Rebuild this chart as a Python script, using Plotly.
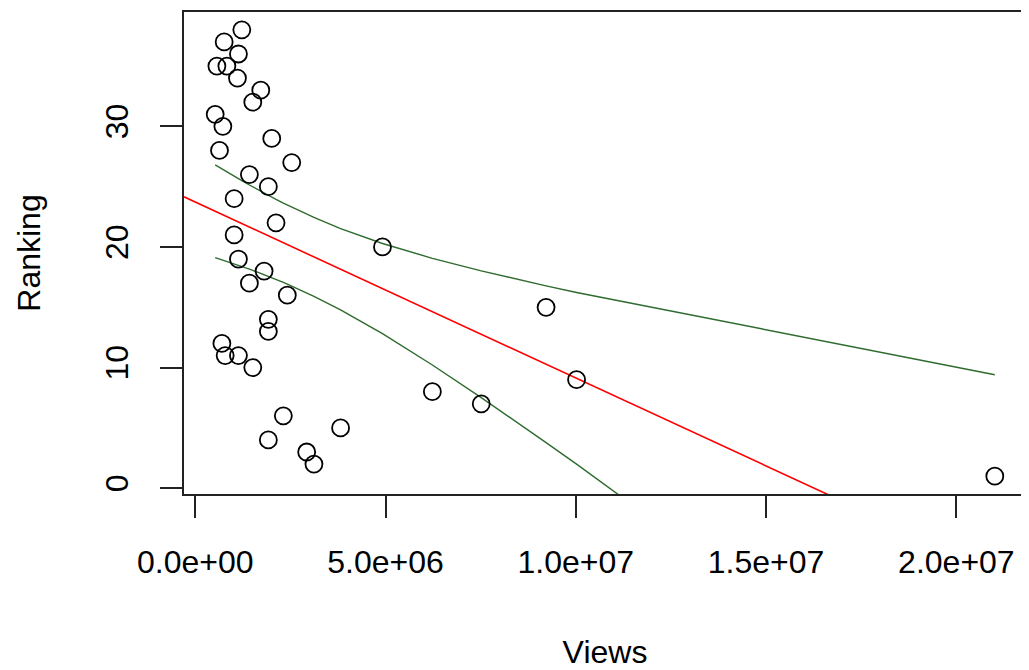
import numpy as np
import plotly.graph_objects as go

# ---- data ----
views = [1.224e6, 0.760e6, 1.135e6, 0.569e6, 0.831e6, 1.109e6, 1.722e6, 1.512e6,
         0.524e6, 0.726e6, 2.010e6, 0.637e6, 2.535e6, 1.423e6, 1.921e6, 1.022e6,
         2.123e6, 1.022e6, 4.920e6, 1.135e6, 1.809e6, 1.423e6, 2.419e6, 9.219e6,
         1.921e6, 1.921e6, 0.700e6, 0.786e6, 1.135e6, 1.512e6, 10.02e6, 6.231e6,
         7.515e6, 2.315e6, 3.819e6, 1.921e6, 2.928e6, 3.119e6, 21.01e6]
ranking = [38, 37, 36, 35, 35, 34, 33, 32,
           31, 30, 29, 28, 27, 26, 25, 24,
           22, 21, 20, 19, 18, 17, 16, 15,
           14, 13, 12, 11, 11, 10, 9, 8,
           7, 6, 5, 4, 3, 2, 1]
x_tickvals = [0, 5e6, 1e7, 1.5e7, 2e7]
x_ticktext = ["0.0e+00", "5.0e+06", "1.0e+07", "1.5e+07", "2.0e+07"]
y_tickvals = [0, 10, 20, 30]
y_ticktext = ["0", "10", "20", "30"]
T_975 = 2.026  # t quantile, df = n - 2

# ---- linear model and 95% confidence band ----
x = np.array(views, dtype=float)
y = np.array(ranking, dtype=float)
n = len(x)
slope, intercept = np.polyfit(x, y, 1)
resid = y - (intercept + slope * x)
s = np.sqrt(np.sum(resid ** 2) / (n - 2))
xbar = x.mean()
sxx = np.sum((x - xbar) ** 2)
xs = np.sort(x)
fit_s = intercept + slope * xs
hw = T_975 * s * np.sqrt(1.0 / n + (xs - xbar) ** 2 / sxx)
upper = fit_s + hw
lower = fit_s - hw

# axis ranges like R (4% extension)
xpad = 0.04 * (x.max() - x.min())
ypad = 0.04 * (y.max() - y.min())
xr = [x.min() - xpad, x.max() + xpad]
yr = [y.min() - ypad, y.max() + ypad]

FONT = "Liberation Sans, Arial, Helvetica, sans-serif"
FS = 32
GREEN = "#2e6b2e"

fig = go.Figure()
fig.add_trace(go.Scatter(x=xr, y=[intercept + slope * v for v in xr], mode="lines",
                         line=dict(color="#ff0000", width=1.6), showlegend=False,
                         hoverinfo="skip"))
fig.add_trace(go.Scatter(x=xs, y=upper, mode="lines",
                         line=dict(color=GREEN, width=1.4), showlegend=False))
fig.add_trace(go.Scatter(x=xs, y=lower, mode="lines",
                         line=dict(color=GREEN, width=1.4), showlegend=False))
fig.add_trace(go.Scatter(x=views, y=ranking, mode="markers",
                         marker=dict(symbol="circle-open", size=17, color="black",
                                     line=dict(width=1.8, color="black")),
                         showlegend=False, cliponaxis=False))

axis_common = dict(showgrid=False, zeroline=False, showline=True, mirror=True,
                   linecolor="#222222", linewidth=1.5, ticks="outside", ticklen=22,
                   tickwidth=1.5, tickcolor="#222222", automargin=False,
                   tickfont=dict(family=FONT, size=FS, color="black"))

fig.update_xaxes(range=xr, tickmode="array", tickvals=x_tickvals, ticktext=x_ticktext,
                 ticklabelstandoff=17,
                 title=dict(text="Views", font=dict(family=FONT, size=FS, color="black"),
                            standoff=67),
                 **axis_common)
fig.update_yaxes(range=yr, tickmode="array", tickvals=y_tickvals, ticktext=y_ticktext,
                 tickangle=-90, ticklabelstandoff=19,
                 title=dict(text="Ranking", font=dict(family=FONT, size=FS, color="black"),
                            standoff=49),
                 **axis_common)

# page body has an 8px margin: shrink the figure so the plot box lands where the reference has it
fig.update_layout(width=1021, height=662, plot_bgcolor="white", paper_bgcolor="white",
                  margin=dict(l=176, r=3, t=4, b=176), showlegend=False)

fig.write_html("out.html")
